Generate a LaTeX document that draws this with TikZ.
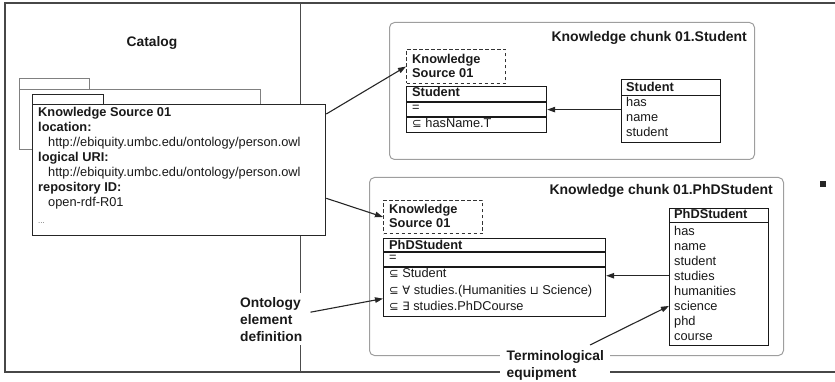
\documentclass[tikz,border=0pt]{standalone}
\usepackage{fontspec}
\setmainfont{Liberation Sans}
\newfontfamily\symfont{DejaVu Sans}
\usetikzlibrary{arrows.meta}

% text sizes
\newcommand\fs{\fontsize{12.8pt}{15pt}\selectfont}
\newcommand\fsb{\fontsize{12.8pt}{15pt}\selectfont\bfseries}
\newcommand\fsl{\fontsize{13.8pt}{17pt}\selectfont\bfseries}
\newcommand\fst{\fontsize{14pt}{17pt}\selectfont\bfseries}
% description-logic symbols come from DejaVu Sans
\newcommand\dl[1]{{\symfont\fontsize{11.5pt}{15pt}\selectfont #1}}

\tikzset{
  outline/.style={draw=black!72, line width=1.6pt},
  divider/.style={draw=black!70, line width=1pt},
  backcard/.style={draw=black!50, line width=0.8pt, fill=white},
  frontcard/.style={draw=black!85, line width=1.3pt, fill=white},
  cardtab/.style={draw=black!85, line width=1pt},
  chunkbox/.style={draw=black!38, line width=1pt, rounded corners=5pt, anchor=north west, inner sep=0pt},
  ksbox/.style={draw=black!80, line width=1pt, dash pattern=on 3.5pt off 2.5pt, anchor=north west, inner sep=0pt},
  umlbox/.style={draw=black!90, line width=1.2pt, fill=white, anchor=north west, inner sep=0pt},
  rowsep/.style={draw=black!90, line width=1.2pt},
  txt/.style={anchor=base west, inner sep=0pt, font=\fs, text=black!90},
  btxt/.style={txt, font=\fsb},
  caption/.style={font=\fsl, text=black!90, align=left},
  chunktitle/.style={anchor=base east, inner sep=0pt, font=\fst, text=black!90},
  arr/.style={draw=black!85, line width=1.1pt, -{Triangle[length=8pt,width=5.5pt]}},
}

\begin{document}
\begin{tikzpicture}[x=1pt,y=-1pt]
\useasboundingbox (0,0) rectangle (835,382);

% outer frame, open on the right, and the panel divider
\draw[outline] (835,3) -- (5,3) -- (5,372) -- (835,372);
\draw[divider] (300,3) -- (300,293);
\draw[divider] (300,345) -- (300,372);

% ---------------- catalog panel ----------------
\node[font=\fontsize{13.8pt}{17pt}\selectfont\bfseries, text=black!90] (catalog) at (152,43) {Catalog};

% card lying behind
\draw[backcard] (19,89) rectangle (260,149);
\draw[backcard] (19,78.5) rectangle (89,89);

% front card
\node[frontcard, anchor=north west, inner sep=0pt, minimum width=293pt, minimum height=131pt] (ks) at (32,104) {};
\draw[cardtab] (32,104) -- (32,94.5) -- (103,94.5) -- (103,104);

\node[btxt] (ks-name) at (38,116.7) {Knowledge Source 01};
\node[btxt] (ks-loc)  at (38,131.7) {location:};
\node[txt]  (ks-locv) at (48,146.7) {http://ebiquity.umbc.edu/ontology/person.owl};
\node[btxt] (ks-uri)  at (38,161.7) {logical URI:};
\node[txt]  (ks-uriv) at (48,176.7) {http://ebiquity.umbc.edu/ontology/person.owl};
\node[btxt] (ks-rep)  at (38,192)   {repository ID:};
\node[txt]  (ks-repv) at (48,207)   {open-rdf-R01};
\node[txt, font=\fontsize{8pt}{8pt}\selectfont, text=black!60] (ks-more) at (38,224) {...};

% ---------------- knowledge chunk: Student ----------------
\node[chunkbox, minimum width=365pt, minimum height=137pt] (chunk1) at (389,22) {};
\node[chunktitle] (chunk1-title) at (747,42) {Knowledge chunk 01.Student};

\node[ksbox, minimum width=99pt, minimum height=34pt] (src1) at (406,49) {};
\node[btxt] (src1-a) at (412,63.4) {Knowledge};
\node[btxt] (src1-b) at (412,77.4) {Source 01};

\node[umlbox, minimum width=140pt, minimum height=46pt] (cls1) at (406,86) {};
\draw[rowsep] (406,102) -- (546,102);
\draw[rowsep] (406,117) -- (546,117);
\node[btxt] (cls1-name) at (412,97) {Student};
\node[txt]  (cls1-eq)   at (412,111.5) {=};
\node[txt]  (cls1-r1)   at (412,127.4) {\dl{⊆} hasName.T};

\node[umlbox, minimum width=99pt, minimum height=63pt] (term1) at (621,79) {};
\draw[rowsep] (621,95.5) -- (720,95.5);
\node[btxt] (term1-name) at (626,91.7)  {Student};
\node[txt]  (term1-a)    at (626,106.7) {has};
\node[txt]  (term1-b)    at (626,121.7) {name};
\node[txt]  (term1-c)    at (626,136.7) {student};

\draw[arr] (term1.west |- cls1.east) -- (cls1.east);

% ---------------- knowledge chunk: PhDStudent ----------------
\node[chunkbox, minimum width=414pt, minimum height=178pt] (chunk2) at (369,177) {};
\node[chunktitle] (chunk2-title) at (773,194.5) {Knowledge chunk 01.PhDStudent};

\node[ksbox, minimum width=99pt, minimum height=33pt] (src2) at (383,200) {};
\node[btxt] (src2-a) at (389,213.3) {Knowledge};
\node[btxt] (src2-b) at (389,228)   {Source 01};

\node[umlbox, minimum width=222pt, minimum height=78pt] (cls2) at (383,238) {};
\draw[rowsep] (383,252) -- (605,252);
\draw[rowsep] (383,267) -- (605,267);
\node[btxt] (cls2-name) at (389,249)   {PhDStudent};
\node[txt]  (cls2-eq)   at (389,261.5) {=};
\node[txt]  (cls2-r1)   at (389,277.7) {\dl{⊆} Student};
\node[txt]  (cls2-r2)   at (389,294)   {\dl{⊆ ∀} studies.(Humanities \dl{⊔} Science)};
\node[txt]  (cls2-r3)   at (389,310)   {\dl{⊆ ∃} studies.PhDCourse};

\node[umlbox, minimum width=99pt, minimum height=137pt] (term2) at (669,208) {};
\draw[rowsep] (669,222.7) -- (768,222.7);
\node[btxt] (term2-name) at (674,218.3) {PhDStudent};
\node[txt]  (term2-a) at (674,235)   {has};
\node[txt]  (term2-b) at (674,250.1) {name};
\node[txt]  (term2-c) at (674,265.2) {student};
\node[txt]  (term2-d) at (674,280.3) {studies};
\node[txt]  (term2-e) at (674,295.4) {humanities};
\node[txt]  (term2-f) at (674,310.5) {science};
\node[txt]  (term2-g) at (674,325.6) {phd};
\node[txt]  (term2-h) at (674,340.7) {course};

\draw[arr] (term2.west |- term2-d) -- (cls2.east |- term2-d);

% marker at the right
\node[fill=black!85, minimum size=5.5pt, inner sep=0pt] (marker) at (823,184) {};

% ---------------- catalog entries point to the chunks ----------------
\draw[arr] ([yshift=-10pt]ks.north east) -- (src1.west);
\draw[arr] ([yshift=38pt]ks.south east) -- (src2.west);

% ---------------- captions ----------------
\node[caption, anchor=north west, inner sep=0pt] (ontlabel) at (240,297.2) {Ontology\\element\\definition};
\draw[arr] ([shift={(8pt,-15pt)}]ontlabel.north east) -- ([yshift=-21pt]cls2.west);

\node[caption, anchor=north west, fill=white, inner xsep=6.5pt, inner ysep=1.5pt] (termlabel) at (500,349) {Terminological\\equipment};
\draw[arr] ([shift={(90pt,4pt)}]termlabel.north west) -- (term2.west |- term2-f);
\end{tikzpicture}
\end{document}
